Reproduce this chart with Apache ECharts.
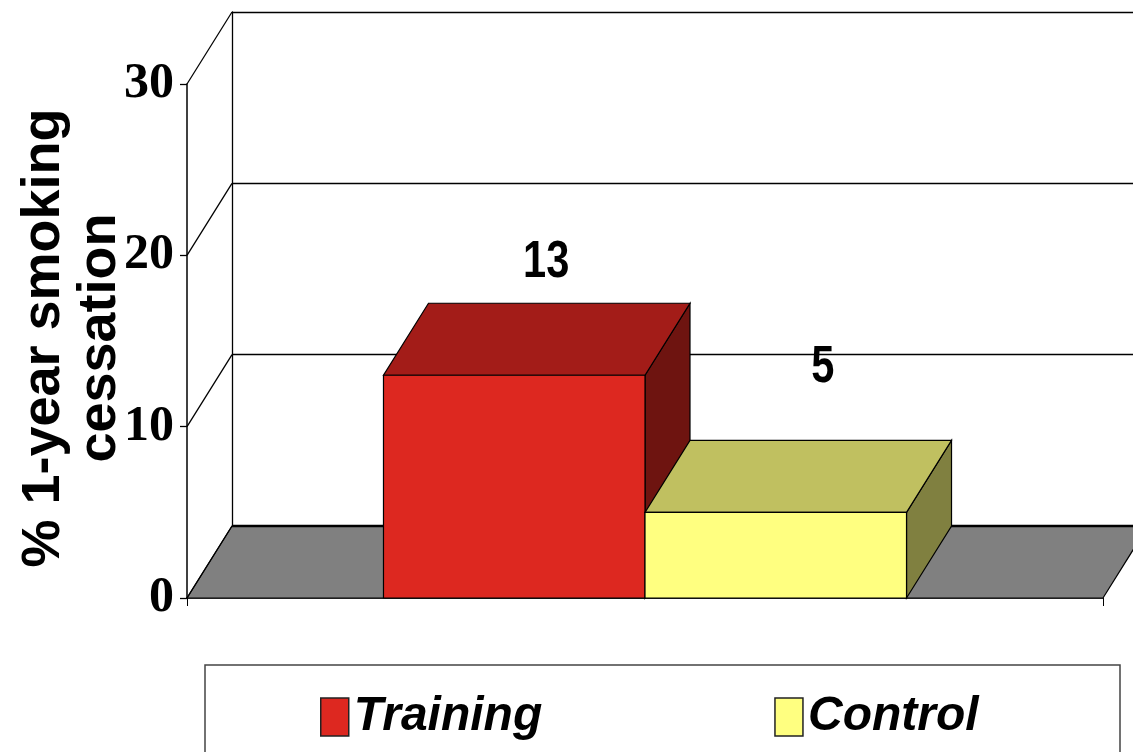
<!DOCTYPE html>
<html>
<head>
<meta charset="utf-8">
<title>1-year smoking cessation</title>
<script src="https://cdn.jsdelivr.net/npm/echarts@6/dist/echarts.min.js"></script>
<style>
  html, body { margin: 0; padding: 0; background: #fff; }
  #chart { width: 1133px; height: 752px; }
</style>
</head>
<body>
<div id="chart"></div>
<script>
// data
var categories = [''];
var seriesNames = ['Training', 'Control'];
var values = [13, 5];
var yTicks = [0, 10, 20, 30];

// 3d look
var DX = 45, DY = -72;
var faceColors = [
  { front: '#DD2820', top: '#A31C18', side: '#6E1410' },
  { front: '#FFFF80', top: '#C0C060', side: '#808040' }
];
var labelOffsets = [[-13, -41], [2, -73]];
var sans = '"Liberation Sans", Arial, sans-serif';

var chart = echarts.init(document.getElementById('chart'));

// side wall diagonals + floor, one item per tick value
function renderWall(params, api) {
  var v = api.value(1);
  var p = api.coord([0, v]);
  var cs = params.coordSys;
  var x0 = cs.x, y = p[1];
  var children = [];
  if (v === 0) {
    children.push({
      type: 'polygon',
      shape: { points: [[x0, y], [x0 + cs.width, y], [x0 + cs.width + DX, y + DY], [x0 + DX, y + DY]] },
      style: { fill: '#808080', stroke: '#000', lineWidth: 1.2 }
    });
    children.push({
      type: 'line',
      shape: { x1: x0 + DX, y1: y + DY, x2: x0 + cs.width + DX, y2: y + DY },
      style: { stroke: '#000', lineWidth: 2.5 }
    });
  }
  children.push({
    type: 'line',
    shape: { x1: x0, y1: y, x2: x0 + DX, y2: y + DY },
    style: { stroke: '#000', lineWidth: 1.3 }
  });
  return { type: 'group', children: children };
}

function renderBar(params, api) {
  var k = params.seriesIndex - 1;
  var c = faceColors[k];
  var base = api.coord([api.value(0), 0]);
  var top = api.coord([api.value(0), api.value(1)]);
  var band = api.size([1, 0])[0];
  var bw = band * 0.2855;
  var x0 = base[0] - bw * seriesNames.length / 2 + k * bw;
  var x1 = x0 + bw;
  var ty = top[1], by = base[1];
  var st = { stroke: '#000', lineWidth: 1.2 };
  var off = labelOffsets[k];
  return {
    type: 'group',
    children: [
      { type: 'polygon', shape: { points: [[x1, ty], [x1 + DX, ty + DY], [x1 + DX, by + DY], [x1, by]] },
        style: Object.assign({ fill: c.side }, st) },
      { type: 'polygon', shape: { points: [[x0, ty], [x1, ty], [x1 + DX, ty + DY], [x0 + DX, ty + DY]] },
        style: Object.assign({ fill: c.top }, st) },
      { type: 'rect', shape: { x: x0, y: ty, width: bw, height: by - ty },
        style: Object.assign({ fill: c.front }, st) },
      { type: 'text', x: x0 + bw / 2 + DX + off[0], y: ty + DY + off[1], scaleX: 0.8,
        style: { text: String(api.value(1)), fill: '#000', align: 'center', verticalAlign: 'middle',
                 font: 'bold 52px ' + sans } }
    ]
  };
}

var series = [{
  type: 'custom',
  name: 'walls',
  xAxisIndex: 0, yAxisIndex: 0,
  renderItem: renderWall,
  data: yTicks.map(function (v) { return [0, v]; }),
  z: 1,
  silent: true
}];
seriesNames.forEach(function (name, i) {
  series.push({
    type: 'custom',
    name: name,
    xAxisIndex: 0, yAxisIndex: 0,
    itemStyle: { color: faceColors[i].front },
    renderItem: renderBar,
    data: [[0, values[i]]],
    z: 3
  });
});

option = {
  backgroundColor: '#fff',
  animation: false,
  grid: [
    { left: 187, top: 84, width: 916, height: 514 },          // front plane
    { left: 187 + DX, top: 84 + DY, width: 916, height: 514 } // back wall
  ],
  xAxis: [
    { type: 'category', gridIndex: 0, data: categories, boundaryGap: true,
      axisLine: { lineStyle: { color: '#000', width: 1.5 } },
      axisTick: { show: true, length: 8, lineStyle: { color: '#000' } },
      axisLabel: { show: false } },
    { type: 'category', gridIndex: 1, data: categories, show: false }
  ],
  yAxis: [
    { type: 'value', gridIndex: 0, min: 0, max: 30, interval: 10,
      axisLine: { show: true, lineStyle: { color: '#000', width: 1.5 } },
      axisTick: { show: true, length: 7, lineStyle: { color: '#000', width: 1.3 } },
      splitLine: { show: false },
      axisLabel: { margin: 13, color: '#000', fontFamily: '"Liberation Serif", "Times New Roman", serif',
                   fontWeight: 'bold', fontSize: 50 } },
    { type: 'value', gridIndex: 1, min: 0, max: 30, interval: 10,
      axisLine: { show: true, lineStyle: { color: '#000', width: 1.3 } },
      axisTick: { show: false }, axisLabel: { show: false },
      splitLine: { show: true, lineStyle: { color: '#000', width: 1.3 } } }
  ],
  legend: {
    data: seriesNames,
    left: 315, top: 688,
    icon: 'rect',
    itemWidth: 28, itemHeight: 38,
    itemGap: 232,
    itemStyle: { borderColor: '#222', borderWidth: 1.5 },
    textStyle: { color: '#000', fontFamily: sans, fontWeight: 'bold', fontStyle: 'italic', fontSize: 48 }
  },
  graphic: [
    { type: 'rect', shape: { x: 205, y: 665, width: 915, height: 100 },
      style: { fill: 'none', stroke: '#444', lineWidth: 1.5 }, z: 0 },
    { type: 'text', x: 72, y: 338, rotation: Math.PI / 2,
      style: { text: '% 1-year smoking\ncessation', align: 'center', verticalAlign: 'middle',
               fill: '#000', font: 'bold 54px ' + sans, lineHeight: 56 } }
  ],
  series: series
};

chart.setOption(option);

window.addEventListener('resize', function () {
  chart.resize();
});
</script>
</body>
</html>
